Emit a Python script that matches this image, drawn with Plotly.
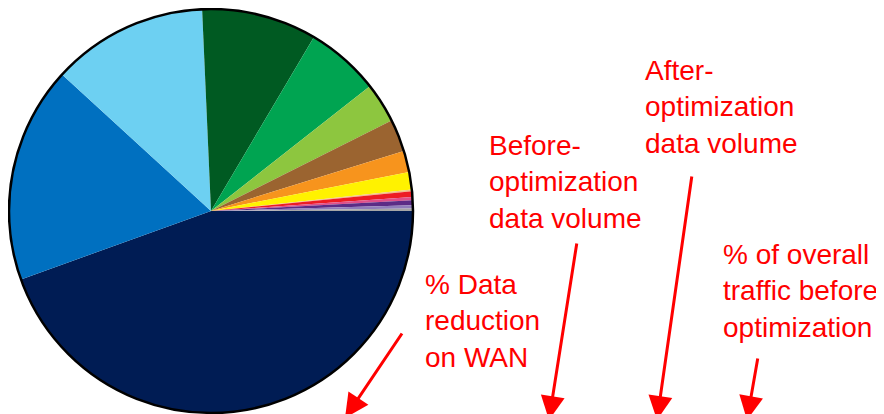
import plotly.graph_objects as go

W, H = 884, 414
OFF = 8  # page body margin around the plot div

# slices, clockwise from 3 o'clock
segments = ["Seg 1", "Seg 2", "Seg 3", "Seg 4", "Seg 5", "Seg 6", "Seg 7", "Seg 8",
            "Seg 9", "Seg 10", "Seg 11", "Seg 12", "Seg 13", "Seg 14", "Seg 15"]
shares = [44.5, 17.3, 12.5, 9.2, 5.9, 3.2, 2.6, 1.7, 1.4, 0.15, 0.45, 0.25, 0.4, 0.25, 0.2]
colors = ["#001C54", "#0070C0", "#6DD0F2", "#005A22", "#00A451", "#8DC63F", "#9B6430",
          "#F7941D", "#FFF200", "#F2C08A", "#ED1C24", "#E0508A", "#5B2C86", "#8F7DBB", "#A6A6A6"]

# callout text and arrows (pixel positions on the slide)
callouts = [
    ("% Data<br>reduction<br>on WAN", 423, 321),
    ("Before-<br>optimization<br>data volume", 487, 182),
    ("After-<br>optimization<br>data volume", 643, 107),
    ("% of overall<br>traffic before<br>optimization", 721, 291),
]
arrows = [  # (tail x, tail y, head x, head y)
    (403, 332, 345, 418),
    (577, 242, 549, 420),
    (692, 175, 657, 420),
    (758, 357, 747, 420),
]

cx, cy, r = 211, 211, 202


def px(x):
    return (x - OFF) / W


def py(y):
    return 1 - (y - OFF) / H


fig = go.Figure(go.Pie(
    labels=segments,
    values=shares,
    sort=False,
    direction="clockwise",
    rotation=90,
    marker=dict(colors=colors, line=dict(width=0)),
    textinfo="none",
    hoverinfo="label+percent",
    domain=dict(x=[px(cx - r), px(cx + r)], y=[py(cy + r), py(cy - r)]),
))

fig.add_shape(type="circle", xref="paper", yref="paper",
              x0=px(cx - r), x1=px(cx + r), y0=py(cy + r), y1=py(cy - r),
              line=dict(color="black", width=2.5))

for text, x, y in callouts:
    fig.add_annotation(text=text, xref="paper", yref="paper", x=px(x), y=py(y),
                       xanchor="left", yanchor="middle", align="left", showarrow=False,
                       font=dict(family="Liberation Sans, Arial", size=28, color="#FF0000"))

for x0, y0, x1, y1 in arrows:
    fig.add_annotation(text="", xref="paper", yref="paper", x=px(x1), y=py(y1),
                       ax=x0 - x1, ay=y0 - y1, showarrow=True, arrowhead=2,
                       arrowsize=1.6, arrowwidth=3, arrowcolor="#FF0000")

fig.update_layout(
    width=W, height=H,
    margin=dict(l=0, r=0, t=0, b=0),
    paper_bgcolor="white",
    showlegend=False,
)

fig.write_html("out.html")
